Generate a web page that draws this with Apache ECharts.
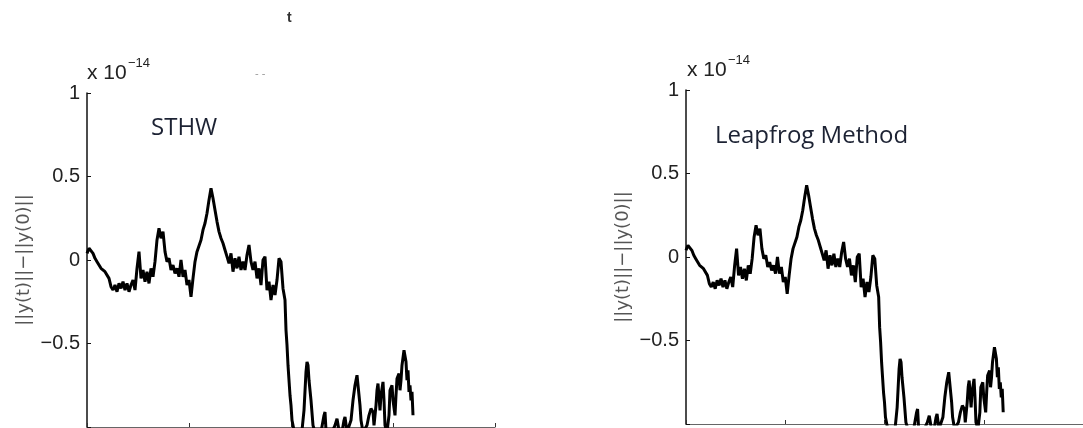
<!DOCTYPE html>
<html>
<head>
<meta charset="utf-8">
<script src="https://cdn.jsdelivr.net/npm/echarts@6/dist/echarts.min.js"></script>
<style>
    html, body { margin: 0; padding: 0; background: #fff; }
    #main { width: 1083px; height: 428px; }
</style>
</head>
<body>
<div id="main"></div>
<script>
// t along the x axis (axis runs 0..408, no labels shown in the figure)
var timeSteps = [
    0, 2, 4, 6, 8, 10, 12, 14, 16, 18, 20, 22, 24, 26, 28, 30, 32, 34, 36, 38,
    40, 42, 44, 46, 48, 50, 52, 54, 56, 58, 60, 62, 64, 66, 68, 70, 72, 74, 76, 78,
    80, 82, 84, 86, 88, 90, 92, 94, 96, 98, 100, 102, 104, 106, 108, 110, 112, 114, 116, 118,
    120, 122, 124, 126, 128, 130, 132, 134, 136, 138, 140, 142, 144, 146, 148, 150, 152, 154, 156, 158,
    160, 162, 164, 166, 168, 170, 172, 174, 176, 178, 180, 182, 184, 186, 188, 190, 192, 194, 196, 198,
    199, 200, 201, 202, 203, 204, 205, 207, 209, 211, 213, 215, 217, 219, 220, 221, 222, 224, 226, 228,
    231, 234, 237, 238, 239, 242, 245, 248, 250, 252, 255, 257, 258, 260, 262, 264, 266, 268, 270, 272,
    273, 274, 276, 278, 280, 282, 284, 286, 287, 289, 290, 291, 293, 294, 296, 297, 298, 300, 302, 303,
    305, 306, 308, 309, 310, 312, 313, 314, 315, 317, 318, 319, 320, 321, 322, 323, 324, 325, 326
];
// ||y(t)|| - ||y(0)||, in units of 1e-14
var normDrift = [
    0.04, 0.07, 0.06, 0.04, 0.01, -0.01, -0.03, -0.05, -0.06, -0.07, -0.08, -0.11, -0.16, -0.18, -0.15, -0.19, -0.14, -0.17, -0.13, -0.18,
    -0.14, -0.19, -0.15, -0.12, -0.18, -0.05, 0.05, -0.11, -0.06, -0.13, -0.07, -0.14, -0.05, -0.10, -0.01, 0.12, 0.19, 0.13, 0.17, 0.05,
    -0.01, 0.01, -0.06, -0.03, -0.08, -0.05, -0.10, 0, -0.10, -0.06, -0.15, -0.12, -0.22, -0.11, -0.01, 0.05, 0.06, 0.12, 0.18, 0.22,
    0.28, 0.36, 0.43, 0.37, 0.30, 0.23, 0.17, 0.13, 0.10, 0.06, 0.02, -0.02, 0.04, -0.07, 0.01, -0.05, 0.02, -0.06, -0.01, -0.06,
    0.03, 0.09, -0.01, -0.06, -0.01, -0.11, -0.05, -0.15, 0, 0.02, -0.18, -0.13, -0.24, -0.15, -0.21, -0.12, 0.01, -0.01, -0.17, -0.24,
    -0.42, -0.51, -0.63, -0.72, -0.81, -0.87, -0.96, -1.02, -1.03, -1.02, -1.03, -1.02, -0.90, -0.67, -0.61, -0.63, -0.72, -0.84, -0.99, -1.03,
    -1.03, -1.03, -0.93, -0.91, -1.02, -1.03, -1.03, -0.99, -0.95, -1.02, -1.03, -0.96, -0.94, -1.03, -1.03, -0.96, -0.84, -0.75, -0.69, -0.81,
    -0.87, -0.96, -1.03, -1.03, -0.99, -0.93, -0.89, -0.91, -0.99, -0.87, -0.78, -0.74, -0.90, -0.81, -0.73, -0.84, -0.99, -1.03, -0.93, -0.78,
    -0.75, -0.84, -0.93, -0.81, -0.71, -0.68, -0.78, -0.72, -0.63, -0.54, -0.53, -0.61, -0.72, -0.66, -0.79, -0.75, -0.84, -0.79, -0.93
];
var yTicks = [1, 0.5, 0, -0.5, -1];
var yTickLabels = ['1', '0.5', '0', '\u22120.5', ''];
var panelTitles = ['STHW', 'Leapfrog Method'];
var yName = '||y(t)||\u2212||y(0)||';

var points = timeSteps.map(function (t, i) { return [t, normDrift[i]]; });

var grids = [
    { left: 87, top: 93, width: 408, height: 334 },
    { left: 686, top: 90, width: 408, height: 334 }
];

function makeX(i) {
    return {
        gridIndex: i,
        type: 'value',
        min: 0,
        max: 408,
        interval: 102,
        axisLine: { onZero: false, lineStyle: { color: '#666', width: 1.2 } },
        axisTick: { inside: true, length: 4, lineStyle: { color: '#333' } },
        axisLabel: { show: false },
        splitLine: { show: false }
    };
}

function makeY(i) {
    return {
        gridIndex: i,
        type: 'value',
        min: -1,
        max: 1,
        interval: 0.5,
        axisLine: { show: true, lineStyle: { color: '#111', width: 1.5 } },
        axisTick: { show: true, inside: true, length: 4, lineStyle: { color: '#111' } },
        axisLabel: {
            margin: 7,
            fontFamily: 'Liberation Sans',
            fontSize: 20,
            color: '#222',
            formatter: function (v) {
                var k = yTicks.indexOf(Math.round(v * 10) / 10);
                return k < 0 ? '' : yTickLabels[k];
            }
        },
        splitLine: { show: false },
        name: yName,
        nameLocation: 'middle',
        nameRotate: 90,
        nameGap: 54,
        nameTextStyle: { fontFamily: 'DejaVu Sans', fontSize: 18, color: '#555' }
    };
}

function makeSeries(i) {
    return {
        type: 'line',
        xAxisIndex: i,
        yAxisIndex: i,
        data: points,
        showSymbol: false,
        clip: true,
        lineStyle: { color: '#000', width: 3 },
        animation: false
    };
}

function sciLabel(x, y) {
    return [
        { type: 'text', left: x, top: y, style: { text: 'x 10', fontFamily: 'Liberation Sans', fontSize: 21, fill: '#222' } },
        { type: 'text', left: x + 41, top: y - 6, style: { text: '\u221214', fontFamily: 'Liberation Sans', fontSize: 13, fill: '#222' } }
    ];
}

var graphics = []
    .concat(sciLabel(87, 63))
    .concat(sciLabel(687, 60))
    .concat([
        { type: 'text', left: 151, top: 116, style: { text: panelTitles[0], fontFamily: 'Open Sans', fontSize: 24, fill: '#1c2233' } },
        { type: 'text', left: 715, top: 124, style: { text: panelTitles[1], fontFamily: 'Open Sans', fontSize: 24, fill: '#1c2233' } },
        // stray bits left over from the crop above the panels
        { type: 'text', left: 287, top: 11, style: { text: 't', fontFamily: 'Liberation Sans', fontSize: 14, fontWeight: 'bold', fill: '#333' } },
        { type: 'text', left: 255, top: 68, style: { text: '- -', fontFamily: 'Liberation Sans', fontSize: 11, fill: '#999' } }
    ]);

var option = {
    backgroundColor: '#fff',
    grid: grids,
    xAxis: [makeX(0), makeX(1)],
    yAxis: [makeY(0), makeY(1)],
    series: [makeSeries(0), makeSeries(1)],
    graphic: graphics
};

var myChart = echarts.init(document.getElementById('main'));
myChart.setOption(option);
window.onresize = myChart.resize;
</script>
</body>
</html>
